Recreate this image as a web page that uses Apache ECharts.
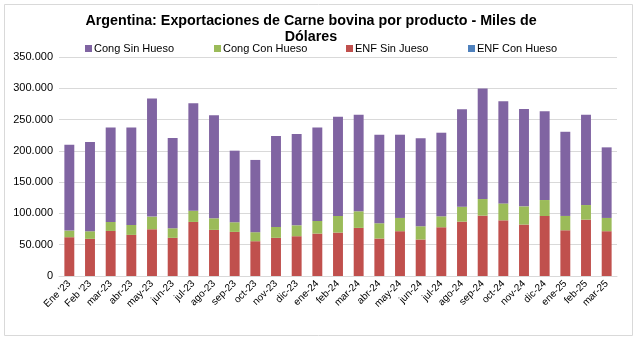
<!DOCTYPE html>
<html>
<head>
<meta charset="utf-8">
<script src="https://cdn.jsdelivr.net/npm/echarts@6/dist/echarts.min.js"></script>
<style>
html,body{margin:0;padding:0;background:#fff;}
#c{width:640px;height:341px;}
</style>
</head>
<body>
<div id="c"></div>
<script>
const categories = ["Ene '23","Feb '23","mar-23","abr-23","may-23","jun-23","jul-23","ago-23","sep-23","oct-23","nov-23","dic-23","ene-24","feb-24","mar-24","abr-24","may-24","jun-24","jul-24","ago-24","sep-24","oct-24","nov-24","dic-24","ene-25","feb-25","mar-25"];
const enfConHueso = [0,0,0,0,0,0,0,0,0,0,0,0,0,0,0,0,0,0,0,0,0,0,0,0,0,0,0];
const enfSinJueso = [62000,59400,72000,65700,74700,61000,86400,73700,70500,55600,61000,63600,67800,69400,76900,59900,71600,58300,77900,86900,96500,89000,82200,95900,73100,90100,71600];
const congConHueso = [10600,12100,14400,15900,20200,15300,18000,18500,15400,14400,17400,17400,20200,26500,26500,24400,21200,21200,17500,23900,26500,27000,29100,25500,22900,23300,21200];
const congSinHueso = [137300,142500,151000,155800,188600,144200,171600,164800,114400,115500,145300,145800,149400,158500,154200,141500,133000,140500,133600,155800,176500,163300,155700,142000,134500,144200,112800];
const legendNames = ['Cong Sin Hueso','Cong Con Hueso','ENF Sin Jueso','ENF Con Hueso'];

const chart = echarts.init(document.getElementById('c'), null, {renderer:'canvas'});
const FONT = "'Liberation Sans', Arial, sans-serif";
function fmt(v){ return String(v).replace(/\B(?=(\d{3})+(?!\d))/g,'.'); }
const mk = (name, data, color) => ({
  name, type:'bar', stack:'t', data, barWidth:'48%',
  itemStyle:{color}, emphasis:{disabled:true}
});
const legendLefts = [85, 214, 346, 468];
chart.setOption({
  animation:false,
  graphic:[{type:'rect', shape:{x:4.5,y:4.5,width:628,height:331}, style:{fill:'none',stroke:'#d9d9d9',lineWidth:1}, silent:true}],
  title:{
    text:'Argentina: Exportaciones de Carne bovina por producto - Miles de\nDólares',
    left:306, top:8, textAlign:'center',
    textStyle:{fontFamily:FONT, fontSize:14.3, fontWeight:'bold', color:'#000', lineHeight:16}
  },
  legend: legendNames.map((n,i)=>({
    data:[n], left:legendLefts[i], top:43, itemWidth:7, itemHeight:7, itemGap:0, icon:'rect',
    padding:0,
    textStyle:{fontFamily:FONT, fontSize:11, color:'#000', padding:[0,0,0,-3]}
  })),
  grid:{left:59, right:23, top:57, bottom:65},
  xAxis:{
    type:'category', data:categories,
    axisLine:{lineStyle:{color:'#d9d9d9'}}, axisTick:{show:false},
    axisLabel:{rotate:45, interval:0, fontFamily:FONT, fontSize:10, color:'#000', margin:6}
  },
  yAxis:{
    type:'value', min:0, max:350000, interval:50000,
    axisLine:{show:false}, axisTick:{show:false},
    splitLine:{lineStyle:{color:'#d9d9d9'}},
    axisLabel:{fontFamily:FONT, fontSize:11, color:'#000', margin:6, formatter:v=>fmt(v)}
  },
  series:[
    mk('ENF Con Hueso', enfConHueso, '#4F81BD'),
    mk('ENF Sin Jueso', enfSinJueso, '#C0504D'),
    mk('Cong Con Hueso', congConHueso, '#9BBB59'),
    mk('Cong Sin Hueso', congSinHueso, '#8064A2')
  ]
});
</script>
</body>
</html>
